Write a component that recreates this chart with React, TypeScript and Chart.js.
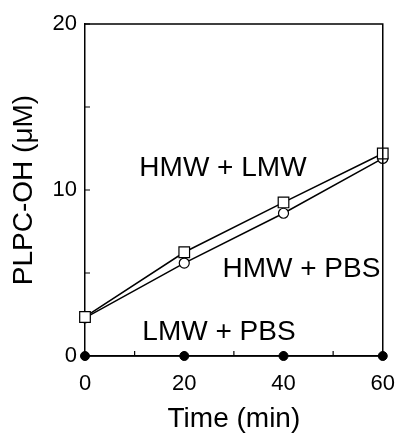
import React, { useEffect, useRef } from "react";
import { Chart, registerables } from "chart.js";

Chart.register(...registerables);

const times = [0, 20, 40, 60];
const hmwLmw = [2.35, 6.25, 9.25, 12.2];
const hmwPbs = [2.3, 5.6, 8.6, 11.9];
const lmwPbs = [0, 0, 0, 0];

const xTickLabels = [0, 20, 40, 60];
const yTickLabels = [0, 10, 20];

const noteTexts = ["HMW + LMW", "HMW + PBS", "LMW + PBS"];
const noteX = [27.8, 43.6, 27];
const noteY = [11.3, 5.2, 1.4];

const FONT = "'Liberation Sans', Arial, Helvetica, sans-serif";

const framePlugin = {
  id: "frame",
  afterDatasetsDraw(chart: any) {
    const { ctx, chartArea } = chart;
    const { left, right, top, bottom } = chartArea;
    ctx.save();
    ctx.strokeStyle = "#000";
    ctx.lineWidth = 1.5;
    ctx.beginPath();
    ctx.moveTo(left, top);
    ctx.lineTo(right, top);
    ctx.lineTo(right, bottom);
    ctx.stroke();
    const xs = chart.scales.x;
    const ys = chart.scales.y;
    ctx.lineWidth = 1.2;
    ctx.beginPath();
    xs.ticks.forEach((t: any) => {
      const px = xs.getPixelForValue(t.value);
      ctx.moveTo(px, bottom);
      ctx.lineTo(px, bottom - 5);
    });
    ys.ticks.forEach((t: any) => {
      const py = ys.getPixelForValue(t.value);
      ctx.moveTo(left, py);
      ctx.lineTo(left + 5, py);
    });
    ctx.stroke();
    ctx.restore();
  },
  afterDraw(chart: any) {
    const { ctx } = chart;
    const xs = chart.scales.x;
    const ys = chart.scales.y;
    ctx.save();
    ctx.fillStyle = "#000";
    ctx.font = `28px ${FONT}`;
    ctx.textAlign = "center";
    ctx.textBaseline = "middle";
    noteTexts.forEach((txt, i) => {
      ctx.fillText(txt, xs.getPixelForValue(noteX[i]), ys.getPixelForValue(noteY[i]));
    });
    ctx.restore();
  },
};

export default function App() {
  const ref = useRef<HTMLCanvasElement>(null);
  useEffect(() => {
    document.body.style.margin = "0";
    const canvas = ref.current!;
    const chart = new Chart(canvas, {
      type: "line",
      data: {
        datasets: [
          {
            label: "LMW + PBS",
            data: times.map((t, i) => ({ x: t, y: lmwPbs[i] })),
            borderColor: "#000",
            borderWidth: 1.5,
            pointStyle: "circle",
            pointRadius: 4.5,
            pointBackgroundColor: "#000",
            pointBorderColor: "#000",
            pointBorderWidth: 1,
            clip: false,
            order: 3,
          },
          {
            label: "HMW + PBS",
            data: times.map((t, i) => ({ x: t, y: hmwPbs[i] })),
            borderColor: "#000",
            borderWidth: 1.5,
            pointStyle: "circle",
            pointRadius: 5,
            pointBackgroundColor: "#fff",
            pointBorderColor: "#000",
            pointBorderWidth: 1.2,
            clip: false,
            order: 2,
          },
          {
            label: "HMW + LMW",
            data: times.map((t, i) => ({ x: t, y: hmwLmw[i] })),
            borderColor: "#000",
            borderWidth: 1.5,
            pointStyle: "rect",
            pointRadius: 7.5,
            pointBackgroundColor: "#fff",
            pointBorderColor: "#000",
            pointBorderWidth: 1.2,
            clip: false,
            order: 1,
          },
        ],
      },
      options: {
        animation: false,
        responsive: false,
        devicePixelRatio: 1,
        layout: { padding: { top: 24, right: 13, left: 0, bottom: 0 } },
        plugins: { legend: { display: false }, tooltip: { enabled: false } },
        scales: {
          x: {
            type: "linear",
            min: 0,
            max: 60,
            afterFit: (s: any) => {
              s.height = 77;
            },
            ticks: {
              stepSize: 10,
              autoSkip: false,
              maxRotation: 0,
              color: "#000",
              padding: 15,
              font: { family: FONT, size: 22 },
              callback: (v: any) => (xTickLabels.includes(Number(v)) ? String(v) : ""),
            },
            grid: { drawOnChartArea: false, drawTicks: false },
            border: { display: true, color: "#000", width: 1.5 },
            title: {
              display: true,
              text: "Time (min)",
              color: "#000",
              font: { family: FONT, size: 28 },
              padding: { top: 0, bottom: -3 },
            },
          },
          y: {
            type: "linear",
            min: 0,
            max: 20,
            afterFit: (s: any) => {
              s.width = 85;
            },
            ticks: {
              stepSize: 5,
              autoSkip: false,
              color: "#000",
              padding: 8,
              font: { family: FONT, size: 22 },
              callback: (v: any) => (yTickLabels.includes(Number(v)) ? String(v) : ""),
            },
            grid: { drawOnChartArea: false, drawTicks: false },
            border: { display: true, color: "#000", width: 1.5 },
            title: {
              display: true,
              text: "PLPC-OH (\u03BCM)",
              color: "#000",
              font: { family: FONT, size: 28 },
              padding: { top: 7, bottom: 0 },
            },
          },
        },
      },
      plugins: [framePlugin],
    });
    return () => chart.destroy();
  }, []);
  return (
    <div style={{ width: 410, height: 433 }}>
      <canvas ref={ref} width={410} height={433} style={{ display: "block" }} />
    </div>
  );
}
